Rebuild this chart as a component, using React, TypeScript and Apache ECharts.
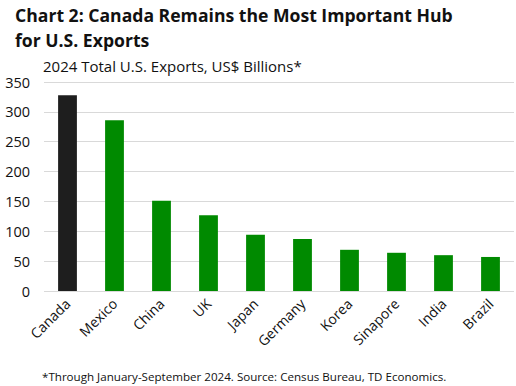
import React, { useEffect, useRef } from "react";
import * as echarts from "echarts";

const categories = ["Canada", "Mexico", "China", "UK", "Japan", "Germany", "Korea", "Sinapore", "India", "Brazil"];
const exportsValues = [328, 286, 151, 127, 94, 87, 69, 64, 60, 57];
const yTicks = [0, 50, 100, 150, 200, 250, 300, 350];

const titleLine1 = "Chart 2: Canada Remains the Most Important Hub";
const titleLine2 = "for U.S. Exports";
const subtitle = "2024 Total U.S. Exports, US$ Billions*";
const footnote = "*Through January-September 2024. Source: Census Bureau, TD Economics.";

const FONT = "'Open Sans'";

export default function App() {
  const ref = useRef<HTMLDivElement>(null);
  useEffect(() => {
    document.body.style.margin = "0";
    if (!ref.current) return;
    const chart = echarts.init(ref.current, null, { renderer: "svg" });
    chart.setOption({
      animation: false,
      backgroundColor: "#ffffff",
      textStyle: { fontFamily: FONT },
      graphic: [
        { type: "text", left: 15, top: 6, style: { text: titleLine1, font: `bold 17.6px ${FONT}`, fill: "#111" } },
        { type: "text", left: 15, top: 31, style: { text: titleLine2, font: `bold 17.6px ${FONT}`, fill: "#111" } },
        { type: "text", left: 43, top: 58, style: { text: subtitle, font: `15px ${FONT}`, fill: "#111" } },
        { type: "text", left: 42, top: 370, style: { text: footnote, font: `11.6px ${FONT}`, fill: "#111" } },
      ],
      grid: { left: 44, right: 2, top: 82, bottom: 95, containLabel: false },
      xAxis: {
        type: "category",
        data: categories,
        axisLine: { show: false },
        axisTick: { show: false },
        axisLabel: { rotate: 45, fontSize: 14, color: "#111", margin: 10, interval: 0, fontFamily: FONT },
      },
      yAxis: {
        type: "value",
        min: yTicks[0],
        max: yTicks[yTicks.length - 1],
        interval: 50,
        axisLine: { show: false },
        axisTick: { show: false },
        axisLabel: { fontSize: 14.5, color: "#111", margin: 14, fontFamily: FONT },
        splitLine: { lineStyle: { color: "#d9d9d9", width: 1 } },
      },
      series: [
        {
          type: "bar",
          data: exportsValues.map((v, i) => ({ value: v, itemStyle: { color: i === 0 ? "#1e1e1e" : "#008a00" } })),
          barWidth: "40%",
        },
      ],
    });
    return () => chart.dispose();
  }, []);
  return <div ref={ref} style={{ width: 516, height: 386 }} />;
}
